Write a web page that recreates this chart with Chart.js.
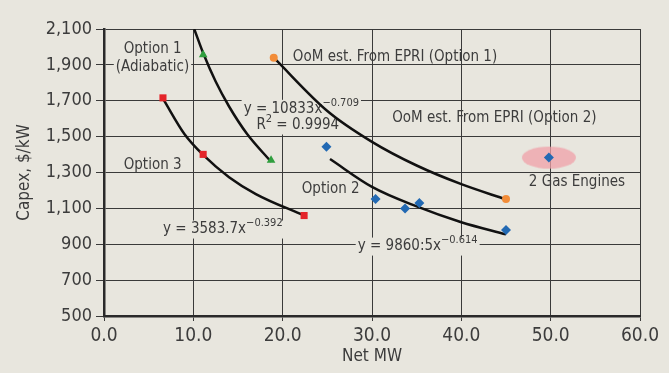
<!DOCTYPE html>
<html>
<head>
<meta charset="utf-8">
<script src="https://cdn.jsdelivr.net/npm/chart.js@4.4.1/dist/chart.umd.min.js"></script>
<style>
  html, body { margin:0; padding:0; background:#e8e6de; }
  #wrap { width:669px; height:373px; }
</style>
</head>
<body>
<div id="wrap"><canvas id="chart"></canvas></div>
<script>
// ============ DATA ============
// Option 3 (red squares)
const opt3X = [6.6, 11.1, 22.4];
const opt3Y = [1716, 1401, 1060];
// Option 1 adiabatic (green triangles)
const opt1X = [11.1, 18.7];
const opt1Y = [1957, 1368];
// OoM est. from EPRI, option 1 (orange circles)
const epri1X = [19.0, 45.0];
const epri1Y = [1940, 1152];
// Option 2 (blue diamonds)
const opt2X = [24.9, 30.4, 33.7, 35.3, 45.0];
const opt2Y = [1443, 1152, 1100, 1130, 980];
// 2 gas engines (highlighted point)
const gasX = [49.8];
const gasY = [1383];

// trend curves
const curve3X = [6.6, 9, 11.1, 14, 17, 22.4];
const curve3Y = [1712, 1515, 1398, 1274, 1180, 1060];
const curve1X = [10.1, 11.1, 12.5, 14, 16, 18.7];
const curve1Y = [2100, 1966, 1807, 1668, 1516, 1360];
const curveE1X = [19.0, 25, 30, 35, 40, 45];
const curveE1Y = [1940, 1643, 1471, 1339, 1235, 1150];
const curve2X = [25.3, 30, 35, 40, 45];
const curve2Y = [1375, 1220, 1111, 1023, 955];

const xTicks = [0, 10, 20, 30, 40, 50, 60];
const yTicks = [500, 700, 900, 1100, 1300, 1500, 1700, 1900, 2100];

const pts = (xs, ys) => xs.map((x, i) => ({x, y: ys[i]}));

// ============ NOTES ============
const FONT = '"DejaVu Sans Condensed", "DejaVu Sans", sans-serif';
const TXT = '#3c3c3c';
const BG = '#e8e6de';
const NOTE_SIZE = 15, SUP_SIZE = 11;
const notes = [
  { parts: [['Option 1']], x: 2.2, y: 1989 },
  { parts: [['(Adiabatic)']], x: 1.32, y: 1888, bg: true },
  { parts: [['OoM est. From EPRI (Option 1)']], x: 21.14, y: 1946 },
  { parts: [['y = 10833x'], ['\u22120.709', 1]], x: 15.63, y: 1655, bg: true },
  { parts: [['R'], ['2', 1], [' = 0.9994']], x: 17.06, y: 1562, bg: true },
  { parts: [['OoM est. From EPRI (Option 2)']], x: 32.26, y: 1602 },
  { parts: [['Option 3']], x: 2.2, y: 1342 },
  { parts: [['Option 2']], x: 22.13, y: 1205 },
  { parts: [['2 Gas Engines']], x: 47.56, y: 1247 },
  { parts: [['y = 3583.7x'], ['\u22120.392', 1]], x: 6.61, y: 982, bg: true },
  { parts: [['y = 9860:5x'], ['\u22120.614', 1]], x: 28.4, y: 887, bg: true }
];

const notesPlugin = {
  id: 'notes',
  beforeDatasetsDraw(chart) {
    const {ctx, scales: {x, y}} = chart;
    ctx.save();
    ctx.textBaseline = 'middle';
    ctx.textAlign = 'left';
    notes.forEach(n => {
      let px = x.getPixelForValue(n.x);
      const py = y.getPixelForValue(n.y);
      let w = 0;
      n.parts.forEach(p => {
        ctx.font = (p[1] ? SUP_SIZE : NOTE_SIZE) + 'px ' + FONT;
        w += ctx.measureText(p[0]).width;
      });
      if (n.bg) {
        ctx.fillStyle = BG;
        ctx.fillRect(px - 2, py - 9, w + 4, 18);
      }
      ctx.fillStyle = TXT;
      n.parts.forEach(p => {
        ctx.font = (p[1] ? SUP_SIZE : NOTE_SIZE) + 'px ' + FONT;
        ctx.fillText(p[0], px, p[1] ? py - 6 : py);
        px += ctx.measureText(p[0]).width;
      });
    });
    ctx.restore();
  }
};

const bgPlugin = {
  id: 'bg',
  beforeDraw(chart) {
    const ctx = chart.ctx;
    ctx.save();
    ctx.fillStyle = BG;
    ctx.fillRect(0, 0, chart.width, chart.height);
    ctx.restore();
  }
};

// pink ellipse used as marker for the highlight
const halo = document.createElement('canvas');
halo.width = 56; halo.height = 24;
(function() {
  const c = halo.getContext('2d');
  c.fillStyle = 'rgba(240,160,168,0.75)';
  c.beginPath();
  c.ellipse(28, 12, 27, 11, 0, 0, Math.PI * 2);
  c.fill();
})();

const curve = (data) => ({
  data, showLine: true, borderColor: '#111', borderWidth: 2.5,
  pointRadius: 0, cubicInterpolationMode: 'monotone', order: 2
});

new Chart(document.getElementById('chart'), {
  type: 'scatter',
  data: {
    datasets: [
      { data: pts(opt3X, opt3Y), pointStyle: 'rect', pointRadius: 5, backgroundColor: '#e42429', borderWidth: 0, order: 0 },
      { data: pts(opt1X, opt1Y), pointStyle: 'triangle', pointRadius: 5, backgroundColor: '#2f9e3e', borderWidth: 0, order: 0 },
      { data: pts(epri1X, epri1Y), pointStyle: 'circle', pointRadius: 4, backgroundColor: '#f28c38', borderWidth: 0, order: 0 },
      { data: pts(opt2X, opt2Y), pointStyle: 'rectRot', pointRadius: 5, backgroundColor: '#2269b3', borderWidth: 0, order: 0 },
      { data: pts(gasX, gasY), pointStyle: 'rectRot', pointRadius: 5, backgroundColor: '#2269b3', borderWidth: 0, order: 0 },
      { data: pts(gasX, gasY), pointStyle: halo, pointRadius: 28, order: 3 },
      curve(pts(curve3X, curve3Y)),
      curve(pts(curve1X, curve1Y)),
      curve(pts(curveE1X, curveE1Y)),
      curve(pts(curve2X, curve2Y))
    ]
  },
  options: {
    responsive: true,
    maintainAspectRatio: false,
    animation: false,
    devicePixelRatio: 1,
    layout: { padding: { top: 14, right: 20, left: 0, bottom: 0 } },
    plugins: { legend: { display: false }, tooltip: { enabled: false } },
    scales: {
      x: {
        type: 'linear', min: 0, max: 60,
        afterBuildTicks: s => { s.ticks = xTicks.map(v => ({value: v})); },
        afterFit: s => { s.height = 57; },
        ticks: { color: TXT, font: { family: FONT, size: 19 }, padding: 4,
                 callback: v => v.toFixed(1) },
        grid: { color: '#3a3a3a', lineWidth: 1, tickLength: 5 },
        border: { color: '#2a2a2a', width: 2.5 },
        title: { display: true, text: 'Net MW', color: TXT,
                 font: { family: FONT, size: 17 }, padding: { bottom: 6 } }
      },
      y: {
        type: 'linear', min: 500, max: 2100,
        afterBuildTicks: s => { s.ticks = yTicks.map(v => ({value: v})); },
        afterFit: s => { s.width = 104; },
        ticks: { color: TXT, font: { family: FONT, size: 18 }, padding: 4,
                 callback: v => v.toLocaleString('en-US') },
        grid: { color: '#3a3a3a', lineWidth: 1, tickLength: 8 },
        border: { color: '#2a2a2a', width: 2.5 },
        title: { display: true, text: 'Capex, $/kW', color: TXT,
                 font: { family: FONT, size: 17 }, padding: { top: 14 } }
      }
    }
  },
  plugins: [bgPlugin, notesPlugin]
});
</script>
</body>
</html>
